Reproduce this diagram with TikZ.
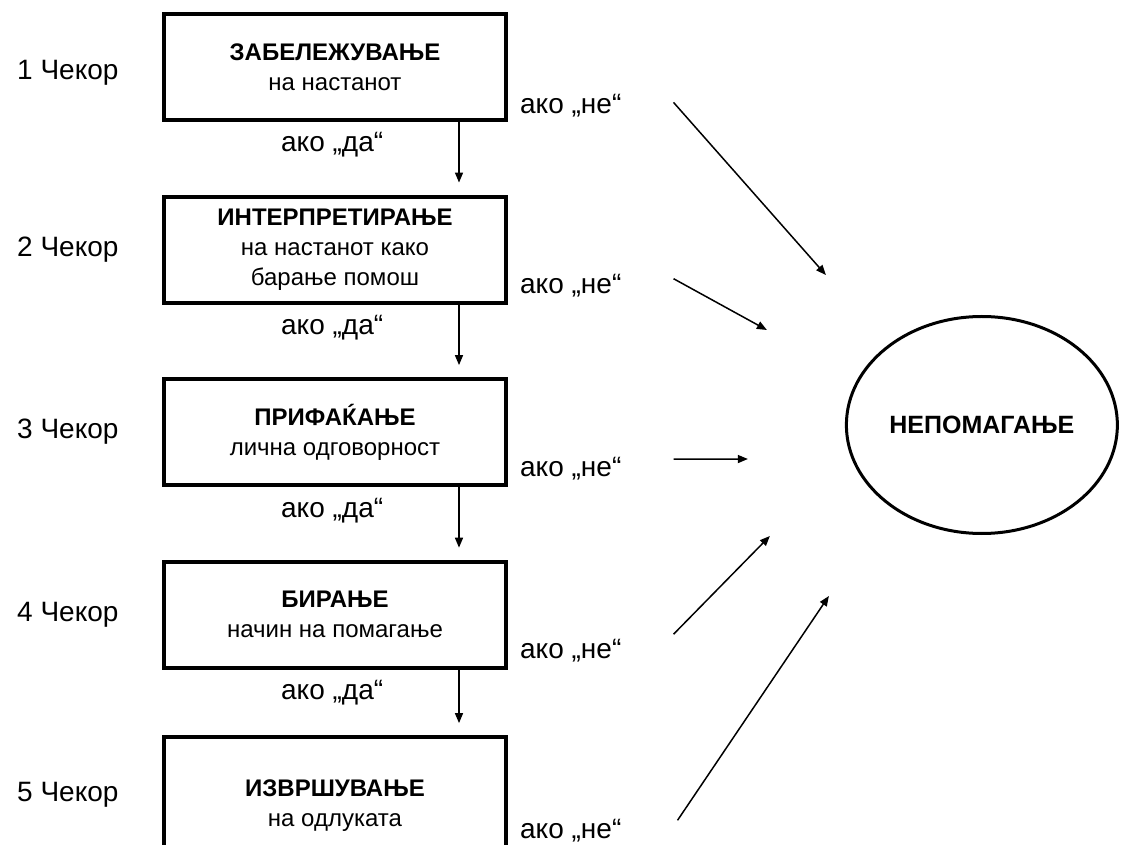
\documentclass[tikz,border=0pt]{standalone}
\usepackage{fontspec}
\setmainfont{Liberation Sans}
\usetikzlibrary{arrows.meta,shapes.geometric,positioning}
\tikzset{
	stepbox/.style={
		rectangle, draw=black, line width=4pt,
		minimum width=342pt, minimum height=106pt,
		align=center, font=\fontsize{24}{30}\selectfont
	},
	%
	outcome/.style={
		ellipse, draw=black, line width=3pt, inner sep=0pt,
		minimum width=271pt, minimum height=217pt,
		font=\fontsize{25}{30}\selectfont\bfseries
	},
	%
	steplabel/.style={
		inner sep=2pt, font=\fontsize{28}{32}\selectfont
	},
	%
	flow/.style={
		->, line width=1.5pt
	}
}

\begin{document}
\begin{tikzpicture}[>={Triangle[length=10pt,width=8pt]}]
\useasboundingbox (0,0) rectangle (1121pt,-845pt);
\node(rec)[stepbox] at (335pt,-67pt){\textbf{ЗАБЕЛЕЖУВАЊЕ}\\на настанот};
\node(int)[stepbox, below=2.55cm of rec]{\textbf{ИНТЕРПРЕТИРАЊЕ}\\на настанот како\\барање помош};
\node(acc)[stepbox, below=2.55cm of int]{\textbf{ПРИФАЌАЊЕ}\\лична одговорност};
\node(cho)[stepbox, below=2.55cm of acc]{\textbf{БИРАЊЕ}\\начин на помагање};
\node(exe)[stepbox, below=2.3cm of cho, minimum height=138pt]{\textbf{ИЗВРШУВАЊЕ}\\на одлуката};
% steps
\node(s1)[steplabel, left=1.45cm of rec, yshift=-0.2cm]{1 Чекор};
\node(s2)[steplabel, left=1.45cm of int]{2 Чекор};
\node(s3)[steplabel, left=1.45cm of acc]{3 Чекор};
\node(s4)[steplabel, left=1.45cm of cho]{4 Чекор};
\node(s5)[steplabel, left=1.45cm of exe, yshift=0.4cm]{5 Чекор};
% yes
\node(da1)[steplabel, below=0.3cm of rec, xshift=-0.1cm]{ако „да“};
\node(da2)[steplabel, below=0.3cm of int, xshift=-0.1cm]{ако „да“};
\node(da3)[steplabel, below=0.3cm of acc, xshift=-0.1cm]{ако „да“};
\node(da4)[steplabel, below=0.3cm of cho, xshift=-0.1cm]{ако „да“};
\draw[flow, shorten >=12pt] ([xshift=124pt]rec.south) -- ([xshift=124pt]int.north);
\draw[flow, shorten >=12pt] ([xshift=124pt]int.south) -- ([xshift=124pt]acc.north);
\draw[flow, shorten >=12pt] ([xshift=124pt]acc.south) -- ([xshift=124pt]cho.north);
\draw[flow, shorten >=12pt] ([xshift=124pt]cho.south) -- ([xshift=124pt]exe.north);
% no
\node(nohelp)[outcome, right=11.84cm of acc, yshift=0.25cm]{НЕПОМАГАЊЕ};
\node(ne1)[steplabel, right=0.35cm of rec.east, yshift=-1.35cm]{ако „не“};
\node(ne2)[steplabel, right=0.35cm of int.east, yshift=-1.27cm]{ако „не“};
\node(ne3)[steplabel, right=0.35cm of acc.east, yshift=-1.27cm]{ако „не“};
\node(ne4)[steplabel, right=0.35cm of cho.east, yshift=-1.25cm]{ако „не“};
\node(ne5)[steplabel, right=0.35cm of exe.east, yshift=-0.85cm]{ако „не“};
\coordinate[above left=150pt and 156pt of nohelp.center](in1);
\coordinate[above left=95pt and 215pt of nohelp.center](in2);
\coordinate[below left=34pt and 234pt of nohelp.center](in3);
\coordinate[below left=111pt and 212pt of nohelp.center](in4);
\coordinate[below left=171pt and 153pt of nohelp.center](in5);
\draw[flow] ([xshift=50pt,yshift=3pt]ne1.east) -- (in1);
\draw[flow] ([xshift=50pt,yshift=7pt]ne2.east) -- (in2);
\draw[flow] ([xshift=50pt,yshift=9pt]ne3.east) -- (in3);
\draw[flow] ([xshift=50pt,yshift=16pt]ne4.east) -- (in4);
\draw[flow] ([xshift=54pt,yshift=10pt]ne5.east) -- (in5);
\end{tikzpicture}
\end{document}
